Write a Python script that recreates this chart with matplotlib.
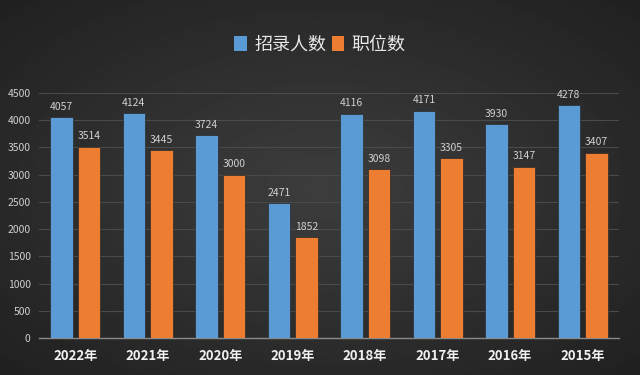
import numpy as np
import matplotlib
matplotlib.use("Agg")
import matplotlib.pyplot as plt
from matplotlib.patches import Patch

plt.rcParams['font.family'] = ['Noto Sans CJK SC', 'DejaVu Sans']

years = ["2022年", "2021年", "2020年", "2019年", "2018年", "2017年", "2016年", "2015年"]
recruits = [4057, 4124, 3724, 2471, 4116, 4171, 3930, 4278]
positions = [3514, 3445, 3000, 1852, 3098, 3305, 3147, 3407]
yticks = [0, 500, 1000, 1500, 2000, 2500, 3000, 3500, 4000, 4500]

blue = "#5B9BD5"
orange = "#ED7D31"
txt = "#d0d0d0"

fig = plt.figure(figsize=(6.4, 3.75), dpi=100)

# background radial gradient
bg = fig.add_axes([0, 0, 1, 1])
yy, xx = np.mgrid[-1:1:200j, -1:1:300j]
r = np.sqrt(xx**2 + yy**2)
img = 0.24 - 0.08 * r
bg.imshow(img, cmap="gray", vmin=0, vmax=1, aspect="auto", extent=[0, 1, 0, 1])
bg.axis("off")

ax = fig.add_axes([0.061, 0.0987, 0.906, 0.6533])
ax.set_facecolor("none")
x = np.arange(len(years))
w = 0.31
off = 0.19
b1 = ax.bar(x - off, recruits, w, color=blue, edgecolor="#2a2a2a", linewidth=0.5, zorder=3)
b2 = ax.bar(x + off, positions, w, color=orange, edgecolor="#2a2a2a", linewidth=0.5, zorder=3)
for bars, vals in ((b1, recruits), (b2, positions)):
    for b, v in zip(bars, vals):
        ax.text(b.get_x() + b.get_width() / 2, v + 100, str(v), ha="center", va="bottom",
                fontsize=7.5, color=txt, zorder=4)

ax.set_xlim(-0.5, len(years) - 0.5)
ax.set_ylim(0, 4500)
ax.set_yticks(yticks)
ax.set_yticklabels([str(t) for t in yticks], fontsize=7.5, color=txt)
ax.set_xticks(x)
ax.set_xticklabels(years, fontsize=9.5, color="#f0f0f0", fontweight="bold")
ax.tick_params(axis="both", length=0)
ax.tick_params(axis="x", pad=8)
ax.tick_params(axis="y", pad=6)
ax.grid(axis="y", color="#4a4a4a", linewidth=0.8, zorder=0)
for s in ("top", "right", "left"):
    ax.spines[s].set_visible(False)
ax.spines["bottom"].set_color("#8a8a8a")
ax.spines["bottom"].set_linewidth(1.0)

handles = [Patch(facecolor=blue, edgecolor="none"), Patch(facecolor=orange, edgecolor="none")]
leg = fig.legend(handles, ["招录人数", "职位数"], loc="center", bbox_to_anchor=(0.5, 0.882),
                 ncol=2, frameon=False, fontsize=13, handlelength=0.7, handleheight=0.9,
                 handletextpad=0.4, columnspacing=0.3, labelcolor="#e8e8e8")

fig.savefig("out.png", dpi=100)
